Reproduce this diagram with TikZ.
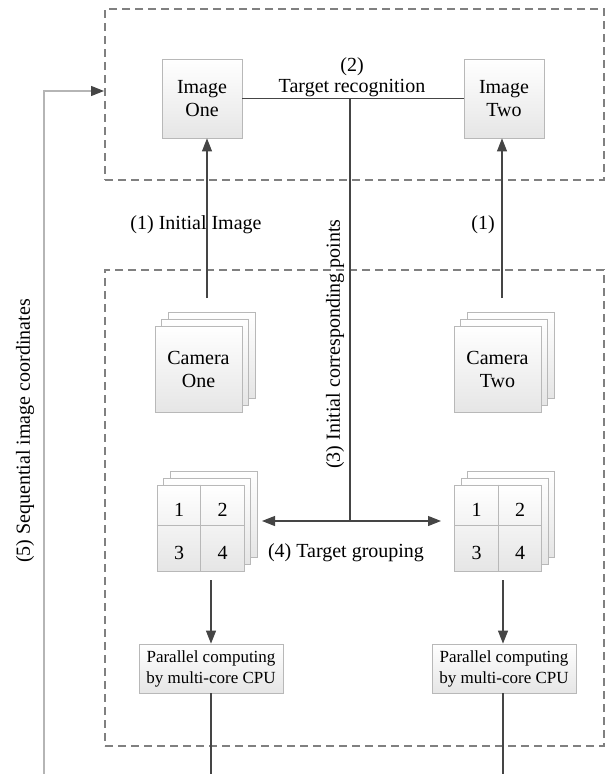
\documentclass[tikz,border=0pt]{standalone}
\usepackage{fontspec}
\setmainfont{Liberation Serif}
\usetikzlibrary{arrows.meta}
\definecolor{lineclr}{HTML}{454545}
\definecolor{boxedge}{HTML}{B8B8B8}
\definecolor{grpclr}{HTML}{808080}
\definecolor{fbclr}{HTML}{B5B5B5}
\tikzset{
  boxstyle/.style={draw=boxedge, line width=0.8pt, top color=white, bottom color=black!10, inner sep=0pt},
  conn/.style={draw=lineclr, line width=1.1pt},
  arr/.style={-{Triangle[length=13pt,width=10pt]}},
  darr/.style={{Triangle[length=13pt,width=10pt]}-{Triangle[length=13pt,width=10pt]}},
  grp/.style={draw=grpclr, dash pattern=on 8pt off 5pt, line width=1.4pt, inner sep=0pt},
  fbline/.style={draw=fbclr, line width=1.1pt, -{Triangle[length=13pt,width=10pt,color=lineclr,fill=lineclr]}},
  lbl/.style={font=\fontsize{20}{23}\selectfont, align=center, inner sep=0pt},
  small/.style={font=\fontsize{17}{21}\selectfont, align=center, inner sep=0pt},
  camsize/.style={minimum width=87pt, minimum height=86pt},
  gridsize/.style={minimum width=87pt, minimum height=86pt},
  parsize/.style={minimum width=144pt, minimum height=49pt},
}
\begin{document}
\begin{tikzpicture}[x=1pt,y=-1pt]
\useasboundingbox (0,0) rectangle (605,774);
% group boxes
\node[grp, minimum width=499pt, minimum height=171pt] (topgrp) at (354.5,94.5) {};
\node[grp, minimum width=499pt, minimum height=476pt] (botgrp) at (354.5,508) {};
% image boxes
\node[boxstyle, lbl, minimum width=80pt, minimum height=79pt] (img1) at (202,98.5) {Image\\One};
\node[boxstyle, lbl, minimum width=80pt, minimum height=79pt] (img2) at (504,98.5) {Image\\Two};
% camera stacks
\node[boxstyle, camsize] (cam1c) at (211.5,355) {};
\node[boxstyle, camsize] (cam1b) at (205,362) {};
\node[boxstyle, camsize, lbl] (cam1) at (198.5,369) {Camera\\One};
\node[boxstyle, camsize] (cam2c) at (510.5,355) {};
\node[boxstyle, camsize] (cam2b) at (504,362) {};
\node[boxstyle, camsize, lbl] (cam2) at (497.5,369) {Camera\\Two};
% grid stacks
\node[boxstyle, gridsize] (g1c) at (213.5,514) {};
\node[boxstyle, gridsize] (g1b) at (207,521) {};
\node[boxstyle, gridsize] (g1) at (200.5,528) {};
\draw[draw=boxedge, line width=0.8pt] (g1.north) -- (g1.south);
\draw[draw=boxedge, line width=0.8pt] (g1.west |- 0,525) -- (g1.east |- 0,525);
\node[lbl] (g1n1) at (179,510) {1};
\node[lbl] (g1n2) at (222.5,510) {2};
\node[lbl] (g1n3) at (179,553) {3};
\node[lbl] (g1n4) at (222.5,553) {4};
\node[boxstyle, gridsize] (g2c) at (511,514) {};
\node[boxstyle, gridsize] (g2b) at (504.5,521) {};
\node[boxstyle, gridsize] (g2) at (498,528) {};
\draw[draw=boxedge, line width=0.8pt] (g2.north) -- (g2.south);
\draw[draw=boxedge, line width=0.8pt] (g2.west |- 0,525) -- (g2.east |- 0,525);
\node[lbl] (g2n1) at (476.5,510) {1};
\node[lbl] (g2n2) at (520,510) {2};
\node[lbl] (g2n3) at (476.5,553) {3};
\node[lbl] (g2n4) at (520,553) {4};
% parallel boxes
\node[boxstyle, parsize, small] (par1) at (211,668.5) {Parallel computing\\by multi-core CPU};
\node[boxstyle, parsize, small] (par2) at (504,668.5) {Parallel computing\\by multi-core CPU};
% coordinates
\coordinate (c1top) at (207,298);
\coordinate (c2top) at (502,298);
\coordinate (mid) at (350,98.5);
\coordinate (grpmid) at (350,521);
\coordinate (gl) at (262,521);
\coordinate (gr) at (441,521);
\coordinate (g1bot) at (211,580);
\coordinate (g2bot) at (503,580);
\coordinate (p1end) at (211,774);
\coordinate (p2end) at (503,774);
\coordinate (fb0) at (44,774);
\coordinate (fbend) at (104,91);
% connectors
\draw[conn, arr] (c1top) -- (img1.south -| c1top);
\draw[conn, arr] (c2top) -- (img2.south -| c2top);
\draw[conn] (img1.east) -- (img2.west);
\draw[conn] (mid) -- (grpmid);
\draw[conn, darr] (gl) -- (gr);
\draw[conn, arr] (g1bot) -- (par1.north -| g1bot);
\draw[conn, arr] (g2bot) -- (par2.north -| g2bot);
\draw[conn] (par1.south -| p1end) -- (p1end);
\draw[conn] (par2.south -| p2end) -- (p2end);
\draw[fbline] (fb0) |- (fbend);
% labels
\node[lbl, font=\fontsize{20}{21}\selectfont] (lab2) at (352,77.5) {(2)\\Target recognition};
\node[lbl] (lab1a) at (196,225) {(1) Initial Image};
\node[lbl] (lab1b) at (483,225) {(1)};
\node[lbl, rotate=90] (lab3) at (335,344) {(3) Initial corresponding points};
\node[lbl] (lab4) at (346,553) {(4) Target grouping};
\node[lbl, rotate=90] (lab5) at (25,431) {(5) Sequential image coordinates};
\end{tikzpicture}
\end{document}
